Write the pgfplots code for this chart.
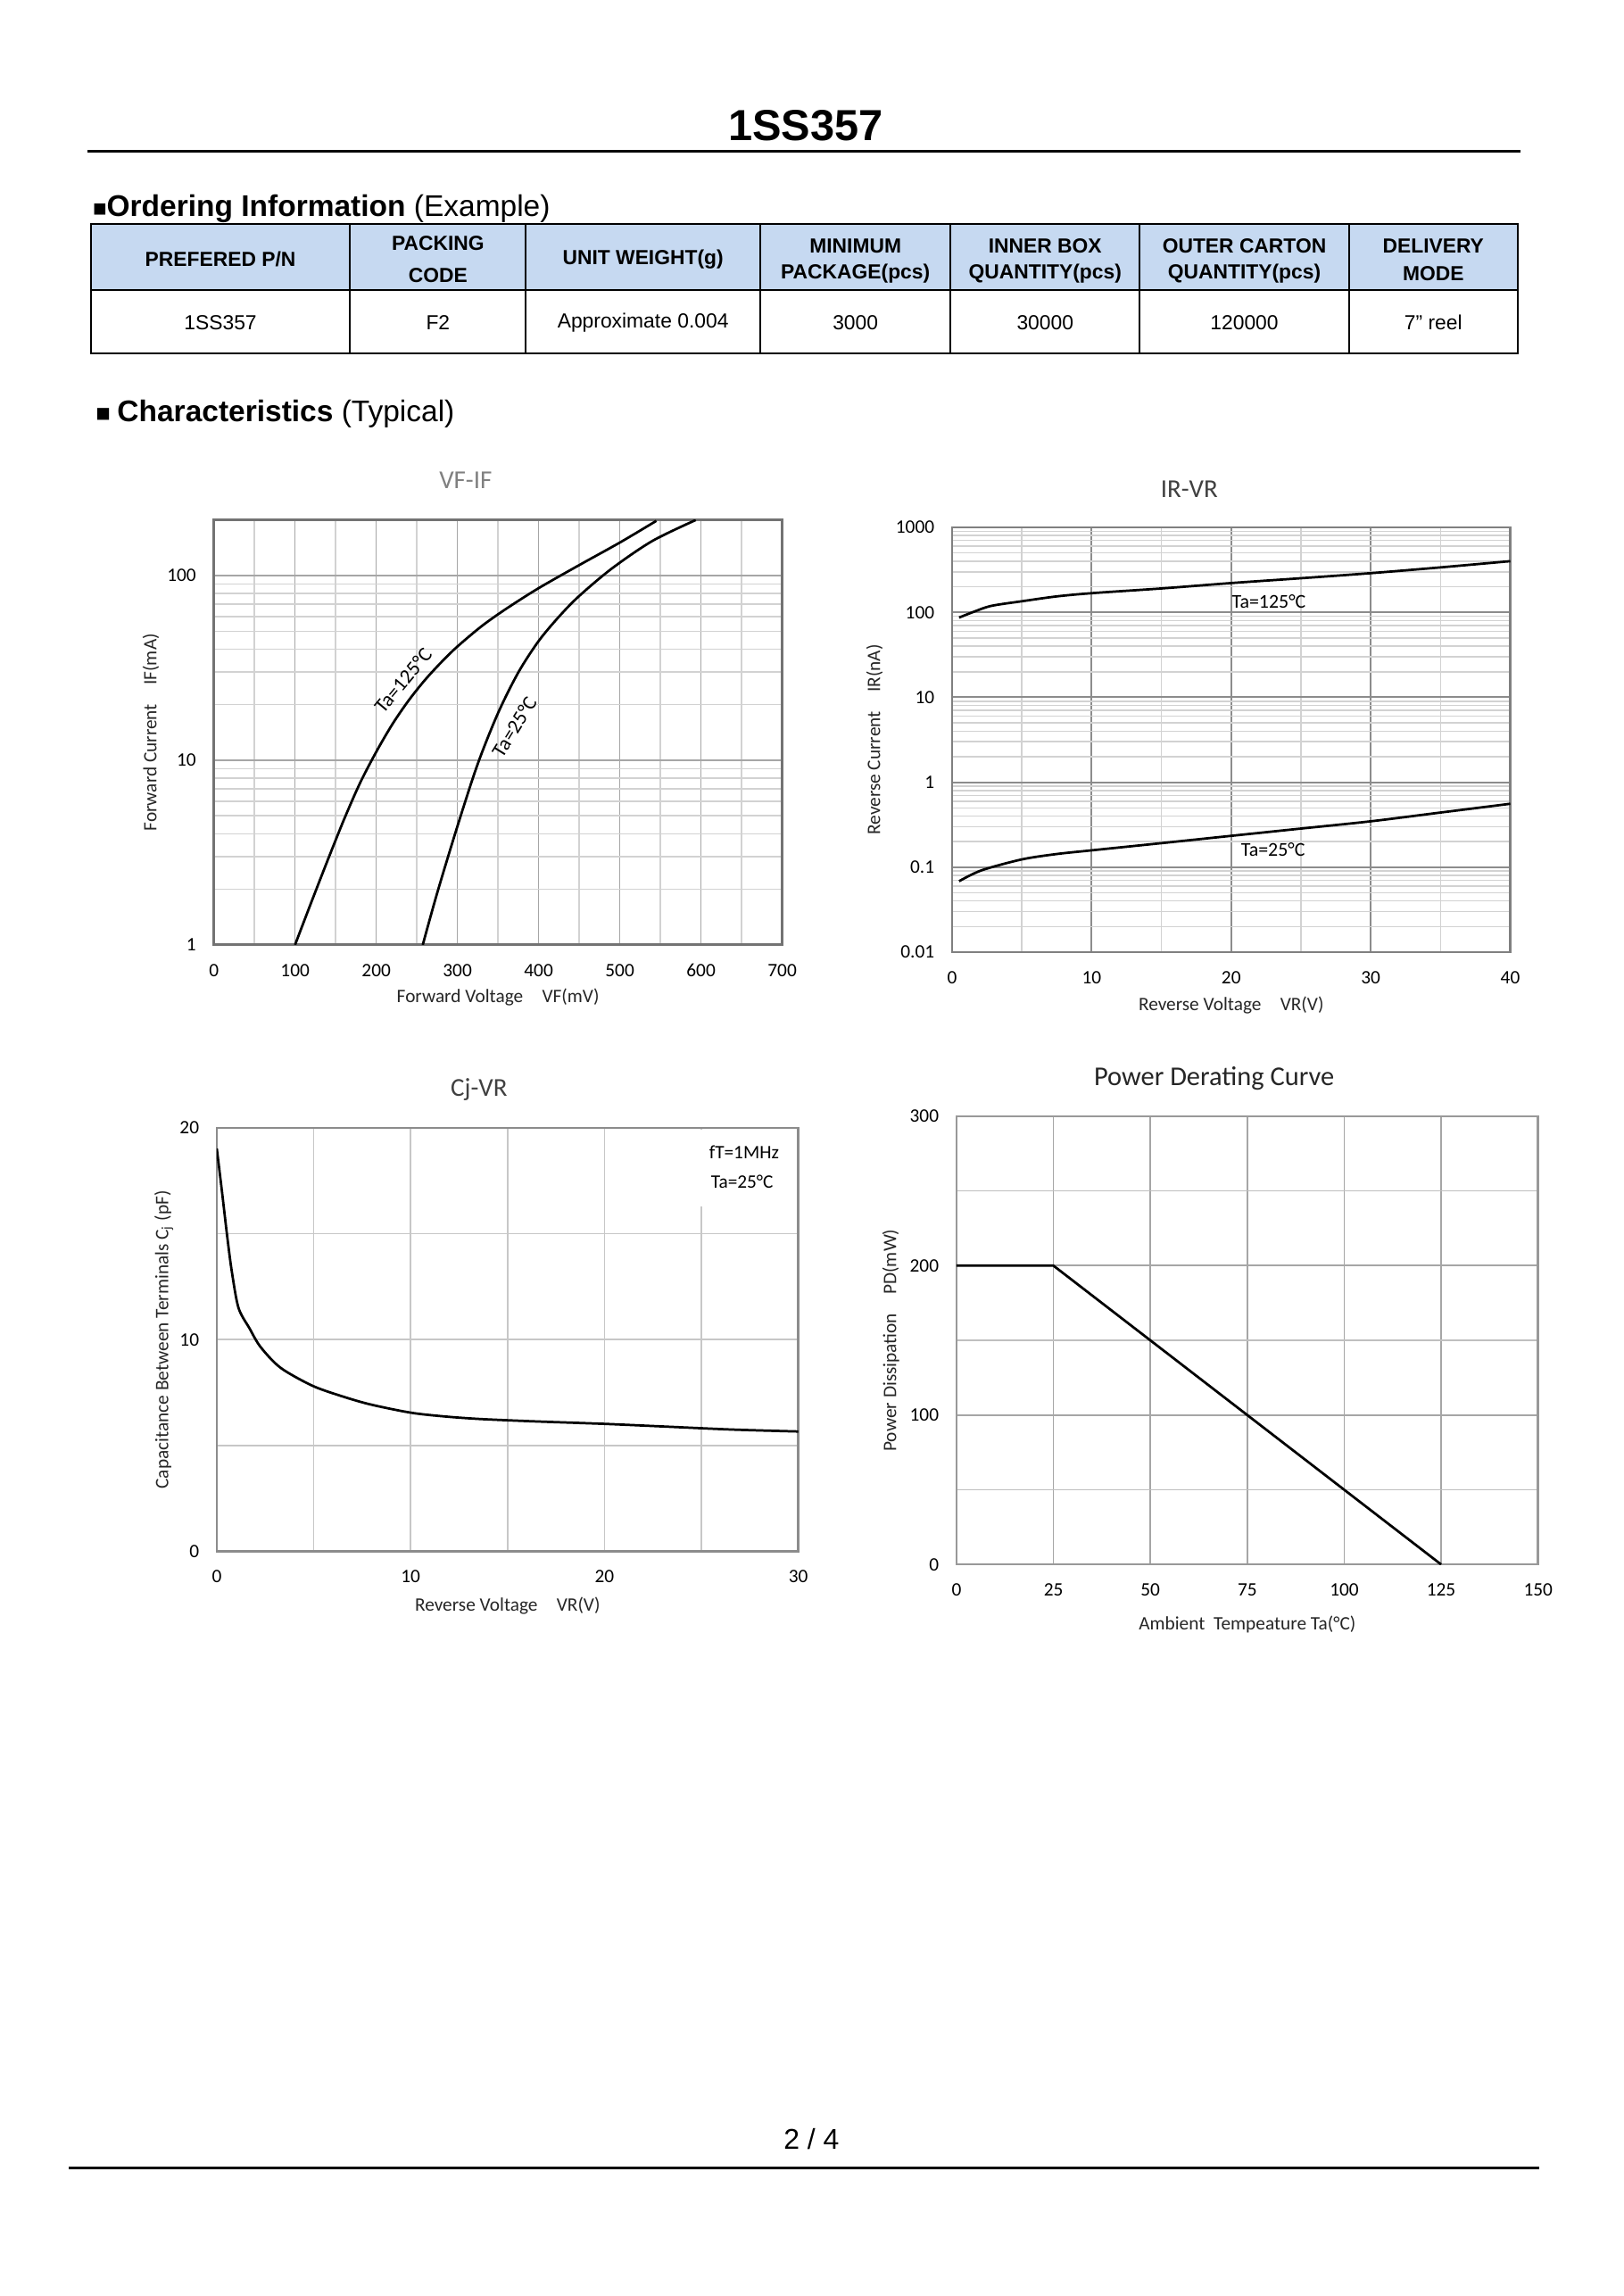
\documentclass[border=0pt]{standalone}
\usepackage{fontspec}
\setmainfont{Liberation Sans}
\newfontfamily\calfont{Carlito}
\usepackage{pgfplots}
\pgfplotsset{compat=1.18}

\definecolor{hdrblue}{HTML}{C6D9F1}
\definecolor{gridmaj}{HTML}{A6A6A6}
\definecolor{gridmin}{HTML}{D2D2D2}
\definecolor{frame}{HTML}{808080}

\pgfplotsset{
  sheetaxis/.style={
    scale only axis, anchor=south west,
    major tick length=0pt, minor tick length=0pt,
    tick style={draw=none},
    ticklabel style={font=\calfont\fontsize{7}{8}\selectfont, text=black},
    yticklabel style={xshift=-3pt},
    xticklabel style={yshift=-3.5pt},
    label style={font=\calfont\fontsize{7}{8}\selectfont, text=black!85},
    title style={font=\calfont\fontsize{9.5}{11}\selectfont, anchor=center, yshift=-6pt},
    /pgf/number format/assume math mode=true,
    grid=both,
    axis line style={draw=frame, line width=0.8pt},
    major grid style={draw=gridmaj, line width=0.55pt},
    minor grid style={draw=gridmin, line width=0.5pt},
  },
  curve/.style={black, line width=0.9pt, no marks},
}

\begin{document}
\begin{tikzpicture}[x=0.18949mm, y=-0.18949mm]
  \path[use as bounding box, fill=white] (0,0) rectangle (1108.2,1567.4);

  % page head
  \node[anchor=base, font=\bfseries\fontsize{16}{18}\selectfont] at (550,96) {1SS357};
  \draw[line width=1pt] (60,103) -- (1038,103);

  \node[anchor=base west, inner sep=0] at (63,148)
    {\fontsize{8.5}{9}\selectfont ■\fontsize{11}{13}\selectfont\textbf{Ordering Information} (Example)};

  % ordering table
  \fill[hdrblue] (62,153) rectangle (1036,198);
  \draw[line width=0.7pt] (62,153) rectangle (1036,241);
  \draw[line width=0.7pt] (62,198) -- (1036,198);
  \foreach \cx in {239,359,519,649,778,921}
    \draw[line width=0.7pt] (\cx,153) -- (\cx,241);
  \begin{scope}[every node/.style={font=\bfseries\fontsize{7.5}{9}\selectfont, inner sep=0}]
    \node at (150.5,177) {PREFERED P/N};
    \node at (299,166) {PACKING};
    \node at (299,188) {CODE};
    \node at (439,177) {UNIT WEIGHT(g)};
    \node at (584,168) {MINIMUM};
    \node at (584,187) {PACKAGE(pcs)};
    \node at (713.5,168) {INNER BOX};
    \node at (713.5,187) {QUANTITY(pcs)};
    \node at (849.5,168) {OUTER CARTON};
    \node at (849.5,187) {QUANTITY(pcs)};
    \node at (978.5,168) {DELIVERY};
    \node at (978.5,187) {MODE};
  \end{scope}
  \begin{scope}[every node/.style={font=\fontsize{7.5}{9}\selectfont, inner sep=0}]
    \node at (150.5,220) {1SS357};
    \node at (299,220) {F2};
    \node at (439,220) {Approximate 0.004};
    \node at (584,220) {3000};
    \node at (713.5,220) {30000};
    \node at (849.5,220) {120000};
    \node at (978.5,220) {7” reel};
  \end{scope}

  \node[anchor=base west, inner sep=0] at (65,288)
    {\fontsize{9}{10}\selectfont ■ \fontsize{11}{13}\selectfont\textbf{Characteristics} (Typical)};

  \coordinate (vfSW) at (146,645);
  \coordinate (irSW) at (650,650);
  \coordinate (cjSW) at (148,1059);
  \coordinate (pdSW) at (653,1068);

  % VF-IF
  \begin{axis}[sheetaxis, at={(vfSW)}, width=73.52mm, height=54.95mm,
    ymode=log, xmin=0, xmax=700, ymin=1, ymax=200,
    xtick={0,100,200,300,400,500,600,700},
    minor xtick={50,150,250,350,450,550,650},
    ytick={1,10,100}, yticklabels={1,10,100},
    minor ytick={2,3,4,5,6,7,8,9,20,30,40,50,60,70,80,90},
    axis line style={draw=black!55, line width=0.9pt},
    title={VF-IF}, title style={at={(axis description cs:0.443,1.093)}, text=black!50},
    xlabel={Forward Voltage\quad VF(mV)},
    ylabel={Forward Current\quad IF(mA)},
    xlabel style={at={(axis description cs:0.5,-0.124)}, anchor=center},
    ylabel style={at={(axis description cs:-0.111,0.5)}, anchor=center},
  ]
    \addplot[curve, smooth] coordinates {
      (100,1) (120,1.70) (140,2.86) (160,4.74) (180,7.52) (200,11.1)
      (220,15.7) (240,21.1) (260,27.2) (280,33.9) (300,41.3) (330,53.3)
      (360,66.1) (400,85.5) (450,114) (500,151) (545,198)};
    \addplot[curve, smooth] coordinates {
      (257.3,1) (275,1.905) (300,4.39) (325,9.55) (350,18.0) (375,29.9)
      (400,44.2) (425,59.9) (450,77.6) (490,109.1) (540,154) (593.5,200)};
    \node[rotate=50, font=\calfont\fontsize{7.5}{9}\selectfont, inner sep=0]
      at (axis cs:233,27) {Ta=125°C};
    \node[rotate=58, font=\calfont\fontsize{7.5}{9}\selectfont, inner sep=0]
      at (axis cs:370,15.2) {Ta=25°C};
  \end{axis}

  % IR-VR
  \begin{axis}[sheetaxis, at={(irSW)}, width=72.20mm, height=54.95mm,
    ymode=log, xmin=0, xmax=40, ymin=0.01, ymax=1000,
    xtick={0,10,20,30,40}, minor xtick={5,15,25,35},
    ytick={0.01,0.1,1,10,100,1000}, yticklabels={0.01,0.1,1,10,100,1000},
    minor ytick={0.02,0.03,0.04,0.05,0.06,0.07,0.08,0.09,
                 0.2,0.3,0.4,0.5,0.6,0.7,0.8,0.9,
                 2,3,4,5,6,7,8,9,20,30,40,50,60,70,80,90,
                 200,300,400,500,600,700,800,900},
    major grid style={draw=black!45, line width=0.6pt},
    title={IR-VR}, title style={at={(axis description cs:0.425,1.09)}, text=black!75},
    xlabel={Reverse Voltage\quad VR(V)},
    ylabel={Reverse Current\quad IR(nA)},
    xlabel style={at={(axis description cs:0.5,-0.124)}, anchor=center},
    ylabel style={at={(axis description cs:-0.139,0.5)}, anchor=center},
  ]
    \addplot[curve, smooth] coordinates {
      (0.5,86.8) (1.5,100.7) (2.8,119) (5,135) (7.5,154) (10,168) (15,191)
      (20,221) (25,252) (30,289) (35,338) (40,400)};
    \addplot[curve, smooth] coordinates {
      (0.5,0.0684) (2.1,0.0918) (5,0.1236) (7.5,0.143) (10,0.158) (15,0.192)
      (20,0.234) (25,0.285) (30,0.347) (35,0.44) (40,0.558)};
    \node[font=\calfont\fontsize{7.2}{9}\selectfont, inner sep=0] at (axis cs:22.7,133) {Ta=125°C};
    \node[font=\calfont\fontsize{7.2}{9}\selectfont, inner sep=0] at (axis cs:23,0.161) {Ta=25°C};
  \end{axis}

  % Cj-VR
  \begin{axis}[sheetaxis, at={(cjSW)}, width=75.23mm, height=54.76mm,
    xmin=0, xmax=30, ymin=0, ymax=20,
    xtick={0,10,20,30}, minor xtick={5,15,25},
    ytick={0,10,20}, minor ytick={5,15},
    axis line style={draw=black!45, line width=0.8pt},
    major grid style={draw=black!22, line width=0.55pt},
    minor grid style={draw=black!22, line width=0.55pt},
    title={Cj-VR}, title style={at={(axis description cs:0.451,1.09)}, text=black!75},
    xlabel={Reverse Voltage\quad VR(V)},
    ylabel={Capacitance Between Terminals C\textsubscript{j} (pF)},
    xlabel style={at={(axis description cs:0.5,-0.128)}, anchor=center},
    ylabel style={at={(axis description cs:-0.091,0.5)}, anchor=center},
  ]
    \fill[white] (axis cs:23.7,19.9) rectangle (axis cs:29.9,16.3);
    \addplot[curve, smooth] coordinates {
      (0,19.03) (0.28,16.9) (0.55,14.78) (0.78,13.19) (1.12,11.5) (1.69,10.53)
      (2.26,9.65) (3.29,8.67) (4.89,7.84) (6.27,7.38) (7.87,6.95) (10,6.55)
      (11.76,6.37) (13.58,6.25) (16.33,6.14) (20,6.02) (23.19,5.89)
      (26.62,5.75) (30,5.66)};
    \node[font=\calfont\fontsize{7}{9}\selectfont, inner sep=0] at (axis cs:27.2,18.85) {fT=1MHz};
    \node[font=\calfont\fontsize{7}{9}\selectfont, inner sep=0] at (axis cs:27.1,17.47) {Ta=25°C};
  \end{axis}

  % Power derating
  \begin{axis}[sheetaxis, at={(pdSW)}, width=75.23mm, height=57.98mm,
    xmin=0, xmax=150, ymin=0, ymax=300,
    xtick={0,25,50,75,100,125,150},
    ytick={0,100,200,300}, minor ytick={50,150,250},
    axis line style={draw=black!40, line width=0.8pt},
    major grid style={draw=black!35, line width=0.6pt},
    minor grid style={draw=black!25, line width=0.55pt},
    title={Power Derating Curve},
    title style={at={(axis description cs:0.443,1.085)}, text=black!85,
                 font=\calfont\fontsize{10}{12}\selectfont},
    xlabel={Ambient\ \ Tempeature Ta(°C)},
    ylabel={Power Dissipation\quad PD(mW)},
    xlabel style={at={(axis description cs:0.5,-0.134)}, anchor=center},
    ylabel style={at={(axis description cs:-0.113,0.5)}, anchor=center},
  ]
    \addplot[curve, sharp plot] coordinates {(0,200) (25,200) (125,0)};
  \end{axis}

  % page foot
  \node[font=\fontsize{10.5}{12}\selectfont, inner sep=0] at (554,1460) {2 / 4};
  \draw[line width=1pt] (47,1480) -- (1051,1480);
\end{tikzpicture}
\end{document}
